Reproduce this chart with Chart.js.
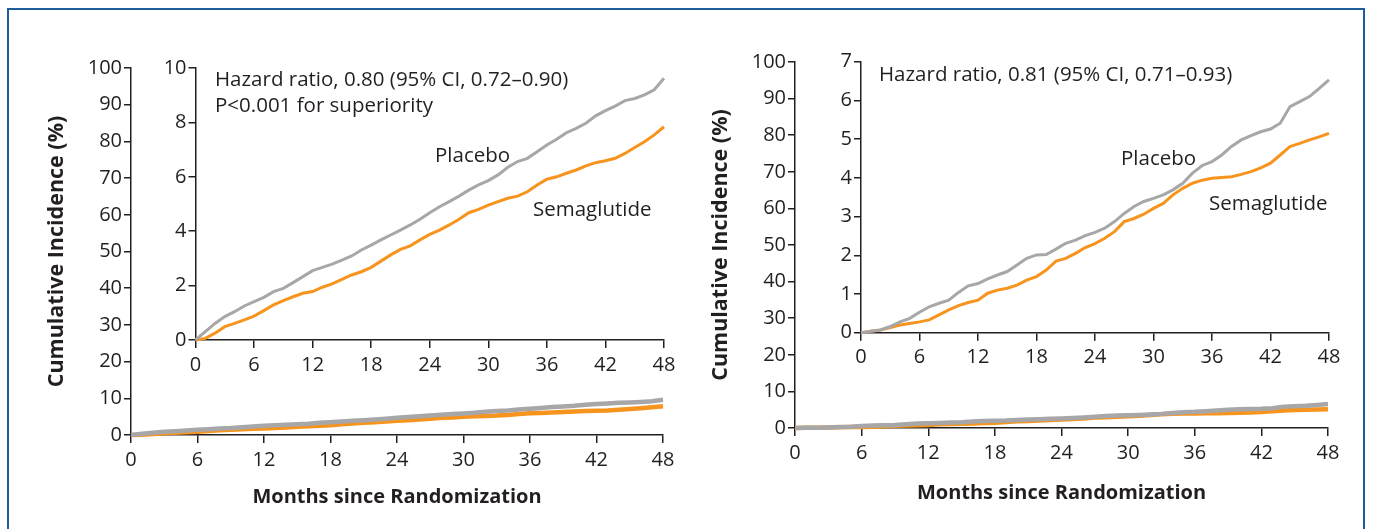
<!DOCTYPE html>
<html>
<head>
<meta charset="utf-8">
<script src="https://cdn.jsdelivr.net/npm/chart.js@4.4.1/dist/chart.umd.min.js"></script>
<style>
  html, body { margin:0; padding:0; background:#fff; }
  #wrap { position:relative; width:1375px; height:529px; overflow:hidden; background:#fff; }
  canvas { position:absolute; left:0; top:0; }
  .frame { position:absolute; left:7px; top:8px; width:1358px; height:560px; border:2px solid #1f5c9c; box-sizing:border-box; }
  .note { position:absolute; font-family:"Open Sans", sans-serif; font-size:20.5px; color:#231f20; white-space:nowrap; line-height:25.5px; }
</style>
</head>
<body>
<div id="wrap">
  <div class="frame"></div>
  <canvas id="outerL" width="1375" height="529"></canvas>
  <canvas id="innerL" width="1375" height="529"></canvas>
  <canvas id="outerR" width="1375" height="529"></canvas>
  <canvas id="innerR" width="1375" height="529"></canvas>
  <div class="note" style="left:215px; top:66px;">Hazard ratio, 0.80 (95% CI, 0.72–0.90)<br>P&lt;0.001 for superiority</div>
  <div class="note" style="left:435px; top:142px;">Placebo</div>
  <div class="note" style="left:533px; top:196px;">Semaglutide</div>
  <div class="note" style="left:879px; top:61px;">Hazard ratio, 0.81 (95% CI, 0.71–0.93)</div>
  <div class="note" style="left:1121px; top:145px;">Placebo</div>
  <div class="note" style="left:1209px; top:190px;">Semaglutide</div>
</div>
<script>
// ---- data ----
const months = [0,1,2,3,4,5,6,7,8,9,10,11,12,13,14,15,16,17,18,19,20,21,22,23,24,25,26,27,28,29,30,31,32,33,34,35,36,37,38,39,40,41,42,43,44,45,46,47,48];
const xTicks = [0,6,12,18,24,30,36,42,48];
const outerYTicks = [0,10,20,30,40,50,60,70,80,90,100];
const leftInsetYTicks = [0,2,4,6,8,10];
const rightInsetYTicks = [0,1,2,3,4,5,6,7];

const leftPlacebo = [0,0.31,0.61,0.86,1.04,1.25,1.41,1.57,1.78,1.90,2.11,2.33,2.55,2.67,2.79,2.94,3.09,3.31,3.49,3.68,3.86,4.04,4.23,4.44,4.68,4.90,5.09,5.29,5.51,5.70,5.86,6.07,6.35,6.56,6.68,6.92,7.17,7.38,7.62,7.78,7.97,8.24,8.43,8.60,8.80,8.88,9.01,9.20,9.62];
const leftSema = [0,0.06,0.25,0.49,0.61,0.74,0.88,1.08,1.29,1.45,1.59,1.72,1.78,1.94,2.06,2.23,2.39,2.51,2.67,2.90,3.13,3.33,3.46,3.68,3.88,4.04,4.23,4.44,4.68,4.80,4.96,5.09,5.21,5.29,5.45,5.70,5.91,6.00,6.13,6.25,6.40,6.52,6.59,6.68,6.86,7.08,7.29,7.54,7.84];
const rightPlacebo = [0,0.04,0.07,0.16,0.28,0.37,0.53,0.67,0.76,0.84,1.04,1.21,1.27,1.39,1.49,1.58,1.75,1.92,2.01,2.02,2.16,2.31,2.39,2.51,2.59,2.70,2.87,3.08,3.26,3.39,3.47,3.56,3.69,3.86,4.12,4.32,4.42,4.59,4.81,4.98,5.09,5.19,5.26,5.41,5.84,5.97,6.10,6.31,6.53];
const rightSema = [0,0.04,0.07,0.13,0.20,0.24,0.28,0.33,0.46,0.59,0.70,0.78,0.84,1.02,1.10,1.15,1.23,1.36,1.45,1.62,1.85,1.92,2.05,2.20,2.30,2.44,2.61,2.87,2.95,3.06,3.21,3.34,3.56,3.73,3.86,3.94,3.99,4.01,4.03,4.09,4.16,4.26,4.38,4.59,4.81,4.89,4.98,5.06,5.15];

const seriesNames = ['Placebo','Semaglutide'];
const yTitle = 'Cumulative Incidence (%)';
const xTitle = 'Months since Randomization';

// ---- styling ----
const INK = '#231f20';
const GRAY = '#a7a7a9';
const ORANGE = '#f7941d';
const FONT = '"Open Sans", sans-serif';

function pts(xs, ys){ return xs.map((x,i)=>({x:x, y:ys[i]})); }

function makeChart(id, o){
  const ctx = document.getElementById(id);
  return new Chart(ctx, {
    type:'line',
    data:{ datasets:[
      {label:seriesNames[0], data:pts(months,o.placebo), borderColor:GRAY, borderWidth:o.lw, pointRadius:0, tension:0, clip:false, fill:false},
      {label:seriesNames[1], data:pts(months,o.sema), borderColor:ORANGE, borderWidth:o.lw, pointRadius:0, tension:0, clip:false, fill:false}
    ]},
    options:{
      responsive:false, animation:false, events:[],
      layout:{ autoPadding:false, padding:o.pad },
      plugins:{ legend:{display:false}, tooltip:{enabled:false} },
      scales:{
        x:{ type:'linear', min:0, max:48,
            afterBuildTicks: s => { s.ticks = xTicks.map(v=>({value:v})); },
            afterFit: s => { s.height = o.xh; },
            ticks:{ color:INK, font:{family:FONT, size:20}, padding:o.xtp, maxRotation:0, autoSkip:false },
            grid:{ display:true, drawOnChartArea:false, drawTicks:true, tickLength:8, color:INK, lineWidth:1.5 },
            border:{ display:true, color:INK, width:1.5 },
            title:{ display:!!o.xTitle, text:xTitle, color:INK, font:{family:FONT, size:20, weight:'bold'}, padding:{top:0, bottom:o.xtb||0} } },
        y:{ type:'linear', min:o.ymin, max:o.ymax,
            afterBuildTicks: s => { s.ticks = o.yticks.map(v=>({value:v})); },
            afterFit: s => { s.width = o.yw; },
            ticks:{ color:INK, font:{family:FONT, size:20}, padding:2, autoSkip:false },
            grid:{ display:true, drawOnChartArea:false, drawTicks:true, tickLength:7, color:INK, lineWidth:1.5 },
            border:{ display:true, color:INK, width:1.5 },
            title:{ display:!!o.yTitle, text:yTitle, color:INK, font:{family:FONT, size:21.5, weight:'bold'}, padding:{top:3, bottom:0} } }
      }
    }
  });
}

// outer left: chart area 131..663 x 68..435
makeChart('outerL', { placebo:leftPlacebo, sema:leftSema, lw:4.5, ymin:0, ymax:100, yticks:outerYTicks,
  pad:{left:41, right:712, top:68, bottom:0}, yw:90, xh:94, xtp:5, xTitle:true, yTitle:true, xtb:20 });
// inset left: 195.5..664 x 68..340
makeChart('innerL', { placebo:leftPlacebo, sema:leftSema, lw:3, ymin:0, ymax:10, yticks:leftInsetYTicks,
  pad:{left:155.5, right:711, top:68, bottom:149}, yw:40, xh:40, xtp:5 });
// outer right: 795..1328 x 62..428
makeChart('outerR', { placebo:rightPlacebo, sema:rightSema, lw:4.5, ymin:0, ymax:100, yticks:outerYTicks,
  pad:{left:705, right:47, top:62, bottom:0}, yw:90, xh:101, xtp:5, xTitle:true, yTitle:true, xtb:24 });
// inset right: 861..1329 x 61.7..332.7
makeChart('innerR', { placebo:rightPlacebo, sema:rightSema, lw:3, ymin:0, ymax:7, yticks:rightInsetYTicks,
  pad:{left:821, right:46, top:61.7, bottom:156.3}, yw:40, xh:40, xtp:5 });
</script>
</body>
</html>
